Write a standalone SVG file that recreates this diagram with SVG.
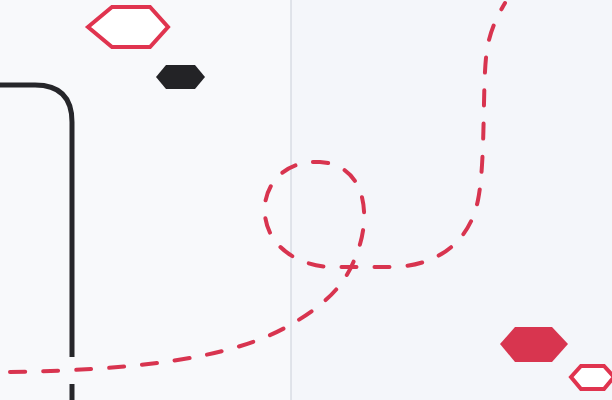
<svg xmlns="http://www.w3.org/2000/svg" width="612" height="400" viewBox="0 0 612 400">
  <style>
    .bg { fill: #f4f6fa; }
    .divider { stroke: #c9ced8; stroke-width: 1; fill: none; }
    .wall { stroke: #26262a; stroke-width: 5; fill: none; stroke-linecap: butt; }
    .route { stroke: #d8344f; stroke-width: 4; fill: none; stroke-dasharray: 15 18; stroke-linecap: round; }
    .hex-outline { fill: #ffffff; stroke: #e0344f; stroke-width: 4; stroke-linejoin: miter; }
    .hex-red { fill: #d8354f; }
    .hex-black { fill: #232326; }
  </style>
  <rect class="bg" x="0" y="0" width="612" height="400"/>
  <rect x="0" y="0" width="291" height="400" fill="#f8f9fb"/>
  <line class="divider" x1="291" y1="0" x2="291" y2="400"/>

  <g id="connectors">
    <path class="wall" d="M0,85 L35,85 Q72,85 72,122 L72,357"/>
    <path class="wall" d="M72,384 L72,400"/>
    <path class="route" d="M10,372 C130,370 230,360 290,325 C325,305 345,285 355,258 C372,220 368,165 320,162 C280,160 262,190 265,215 C268,245 295,265 330,267 L395,267 C440,265 470,240 478,200 C486,160 482,80 487,50 C490,30 498,15 505,3"/>
  </g>

  <g id="hex-top-outline">
    <polygon class="hex-outline" points="88,27 112,7 150,7 168,27 150,47 112,47"/>
  </g>
  <g id="hex-top-black">
    <polygon class="hex-black" points="156,77 166,65 195,65 205,77 195,89 166,89"/>
  </g>
  <g id="hex-bottom-red">
    <polygon class="hex-red" points="500,344 515,327 552,327 568,344 552,362 515,362"/>
  </g>
  <g id="hex-bottom-outline">
    <polygon class="hex-outline" points="571,377 581,366 604,366 614,377 604,389 581,389"/>
  </g>
</svg>
